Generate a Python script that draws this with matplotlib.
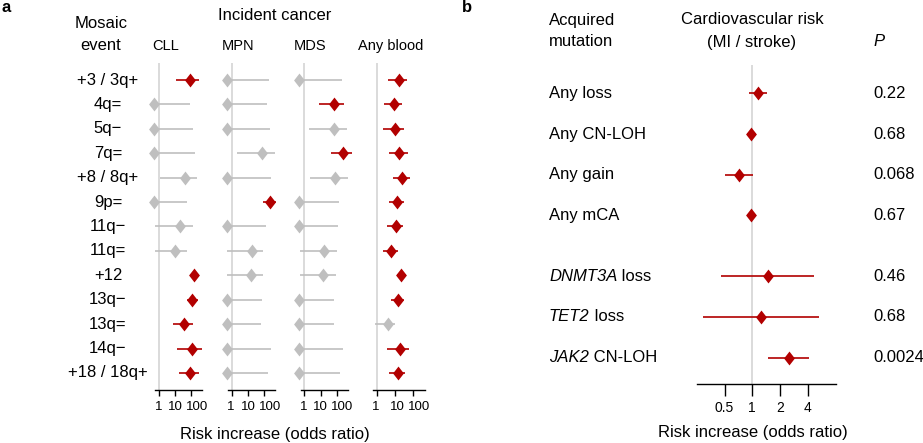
import matplotlib
matplotlib.use("Agg")
import matplotlib.pyplot as plt
from matplotlib.ticker import NullLocator, FixedLocator
from matplotlib.transforms import blended_transform_factory, ScaledTranslation

plt.rcParams['font.family'] = ['Liberation Sans', 'DejaVu Sans']

# ---------------- data: panel a ----------------
events = ['+3 / 3q+', '4q=', '5q\u2212', '7q=', '+8 / 8q+', '9p=', '11q\u2212', '11q=',
          '+12', '13q\u2212', '13q=', '14q\u2212', '+18 / 18q+']
cancers = ['CLL', 'MPN', 'MDS', 'Any blood']

cll_or = [83, 0.5, 0.5, 0.5, 44, 0.5, 21, 10.5, 155, 120, 38, 110, 91]
cll_lo = [11, 0.5, 0.5, 0.5, 1.15, 0.5, 0.59, 0.54, 95, 54, 7.9, 12.7, 18.6]
cll_hi = [330, 87, 126, 170, 250, 59, 126, 59, 290, 290, 126, 470, 300]
cll_sig = [1, 0, 0, 0, 0, 0, 0, 0, 1, 1, 1, 1, 1]

mpn_or = [0.5, 0.5, 0.5, 74, 0.5, 230, 0.5, 17, 15.5, 0.5, 0.5, 0.5, 0.5]
mpn_lo = [0.5, 0.5, 0.5, 2.0, 0.5, 89, 0.5, 0.53, 0.53, 0.5, 0.5, 0.5, 0.5]
mpn_hi = [210, 144, 240, 450, 277, 540, 131, 89, 82, 71, 62, 255, 166]
mpn_sig = [0, 0, 0, 0, 0, 1, 0, 0, 0, 0, 0, 0, 0]

mds_or = [0.5, 68, 68, 234, 82, 0.5, 0.5, 16.5, 15, 0.5, 0.5, 0.5, 0.5]
mds_lo = [0.5, 8.4, 1.87, 46.5, 2.25, 0.5, 0.5, 0.54, 0.54, 0.5, 0.5, 0.5, 0.5]
mds_hi = [222, 282, 415, 845, 500, 138, 126, 100, 87, 68, 68, 255, 160]
mds_sig = [0, 1, 0, 1, 0, 0, 0, 0, 0, 0, 0, 0, 0]

any_or = [17, 9.2, 10.8, 18, 26.5, 14, 11.8, 6.5, 23, 14.7, 4.1, 19, 15]
any_lo = [4.4, 2.5, 2.15, 5, 8.4, 5, 3.9, 2.3, 14, 6.2, 0.8, 3.6, 5]
any_hi = [46, 24.5, 34, 53, 71, 33, 30, 14.7, 41, 32, 10.8, 65, 37]
any_sig = [1, 1, 1, 1, 1, 1, 1, 1, 1, 1, 0, 1, 1]

a_ticks = [1, 10, 100]
a_ticklabels = ['1', '10', '100']

# ---------------- data: panel b ----------------
genes = ['', '', '', '', 'DNMT3A', 'TET2', 'JAK2']
mutations = ['Any loss', 'Any CN-LOH', 'Any gain', 'Any mCA', ' loss', ' loss', ' CN-LOH']
cv_or = [1.14, 0.96, 0.72, 0.97, 1.47, 1.24, 2.5]
cv_lo = [0.93, 0.87, 0.51, 0.93, 0.46, 0.29, 1.49]
cv_hi = [1.45, 1.10, 1.02, 1.01, 4.7, 5.3, 4.14]
cv_p = ['0.22', '0.68', '0.068', '0.67', '0.46', '0.68', '0.0024']
b_ticks = [0.5, 1, 2, 4]
b_ticklabels = ['0.5', '1', '2', '4']

# ---------------- styling ----------------
RED = '#b20000'
GREY = '#bfbfbf'
REF = '#d4d4d4'
W, H = 923, 443
DIAMOND = [(0, 1), (0.78, 0), (0, -1), (-0.78, 0), (0, 1)]

fig = plt.figure(figsize=(W / 100, H / 100), dpi=100)


def px_axes(x0, x1, ytop, ybot):
    return fig.add_axes([x0 / W, 1 - ybot / H, (x1 - x0) / W, (ybot - ytop) / H])


def fy(y):
    return 1 - y / H


def style_axis(ax, ticks, labels, ticklen, label_y, offsets, fs):
    for s in ['left', 'right', 'top']:
        ax.spines[s].set_visible(False)
    ax.spines['bottom'].set_linewidth(1.0)
    ax.set_yticks([])
    ax.xaxis.set_major_locator(FixedLocator(ticks))
    ax.xaxis.set_minor_locator(NullLocator())
    ax.tick_params(axis='x', direction='out', length=ticklen, width=1.0,
                   labelbottom=False, colors='black')
    ax.patch.set_alpha(0)
    tr = blended_transform_factory(ax.transData, fig.transFigure)
    for t, lab, dx in zip(ticks, labels, offsets):
        ax.text(t, fy(label_y), lab, ha='center', va='center', fontsize=fs,
                transform=tr + ScaledTranslation(dx / 100, 0, fig.dpi_scale_trans),
                clip_on=False)


# ---------------- panel a ----------------
cols = [(cll_or, cll_lo, cll_hi, cll_sig),
        (mpn_or, mpn_lo, mpn_hi, mpn_sig),
        (mds_or, mds_lo, mds_hi, mds_sig),
        (any_or, any_lo, any_hi, any_sig)]
# (x of OR=1, px per decade)
geo = [(159.0, 16.0), (231.7, 16.2), (304.3, 16.2), (376.7, 18.0)]
head_x = [166, 238, 310, 391]
lab_off = [[0, 0, 6], [-1, 0, 5.5], [-1, 0, 5.5], [-1, 3, 6.5]]
lo_dec, hi_dec = -0.22, 2.7
n = len(events)
ypos = list(range(n))
axes_a = []
for (orv, lo, hi, sig), (x1, dec), name, hx, off in zip(cols, geo, cancers, head_x, lab_off):
    ax = px_axes(x1 + lo_dec * dec, x1 + hi_dec * dec, 63, 390)
    ax.set_xscale('log')
    ax.set_xlim(10 ** lo_dec, 10 ** hi_dec)
    ax.set_ylim(n - 0.3, -0.7)
    ax.axvline(1, color=REF, lw=1.2, zorder=0)
    for i in range(n):
        c = RED if sig[i] else GREY
        ax.plot([lo[i], hi[i]], [ypos[i], ypos[i]], color=c, lw=1.2,
                solid_capstyle='butt', clip_on=False, zorder=2)
        ax.plot([orv[i]], [ypos[i]], marker=DIAMOND, ms=10, color=c,
                mec=c, mew=0, clip_on=False, zorder=3, linestyle='none')
    style_axis(ax, a_ticks, a_ticklabels, 4.5, 406.5, off, 9.5)
    fig.text(hx / W, fy(46), name, ha='center', va='center', fontsize=10.5)
    axes_a.append(ax)

trans = blended_transform_factory(fig.transFigure, axes_a[0].transData)
for i, ev in enumerate(events):
    axes_a[0].text(108 / W, ypos[i], ev, transform=trans, ha='center',
                   va='center', fontsize=12)

fig.text(101 / W, fy(24), 'Mosaic', ha='center', va='center', fontsize=12)
fig.text(101 / W, fy(46), 'event', ha='center', va='center', fontsize=12)
fig.text(275 / W, fy(16), 'Incident cancer', ha='center', va='center', fontsize=12)
fig.text(275 / W, fy(434), 'Risk increase (odds ratio)', ha='center', va='center', fontsize=12)
fig.text(2 / W, fy(8), 'a', ha='left', va='center', fontsize=12, fontweight='bold')

# ---------------- panel b ----------------
yb = []
y = 0.0
for i in range(len(mutations)):
    if i == 4:
        y += 0.5
    yb.append(y)
    y += 1
x1b, dec2 = 752.3, 27.8
axb = px_axes(x1b - 2 * dec2, x1b + 3 * dec2, 65, 384)
axb.set_xscale('log', base=2)
axb.set_xlim(0.25, 8)
axb.set_ylim(7.15, -0.7)
axb.axvline(1, color=REF, lw=1.2, zorder=0)
for i in range(len(mutations)):
    axb.plot([cv_lo[i], cv_hi[i]], [yb[i], yb[i]], color=RED, lw=1.2,
             solid_capstyle='butt', zorder=2)
    axb.plot([cv_or[i]], [yb[i]], marker=DIAMOND, ms=10, color=RED, mew=0,
             zorder=3, linestyle='none')
style_axis(axb, b_ticks, b_ticklabels, 8.5, 408, [0, 0, 0, 0], 10)

transb = blended_transform_factory(fig.transFigure, axb.transData)
for i, (g, m, p) in enumerate(zip(genes, mutations, cv_p)):
    if g:
        t1 = axb.text(549 / W, yb[i], g, transform=transb, ha='left', va='center',
                      fontsize=12, fontstyle='italic')
        axb.annotate(m, xy=(1, 0), xycoords=t1, ha='left', va='bottom', fontsize=12)
    else:
        axb.text(549 / W, yb[i], m, transform=transb, ha='left', va='center', fontsize=12)
    axb.text(873 / W, yb[i], p, transform=transb, ha='left', va='center', fontsize=12)

fig.text(549 / W, fy(20), 'Acquired', ha='left', va='center', fontsize=12)
fig.text(549 / W, fy(42), 'mutation', ha='left', va='center', fontsize=12)
fig.text(752 / W, fy(20), 'Cardiovascular risk', ha='center', va='center', fontsize=12)
fig.text(752 / W, fy(42), '(MI / stroke)', ha='center', va='center', fontsize=12)
fig.text(873 / W, fy(42), 'P', ha='left', va='center', fontsize=12, fontstyle='italic')
fig.text(752.8 / W, fy(433), 'Risk increase (odds ratio)', ha='center', va='center', fontsize=12)
fig.text(462 / W, fy(8), 'b', ha='left', va='center', fontsize=12, fontweight='bold')

fig.savefig('out.png', dpi=100)
